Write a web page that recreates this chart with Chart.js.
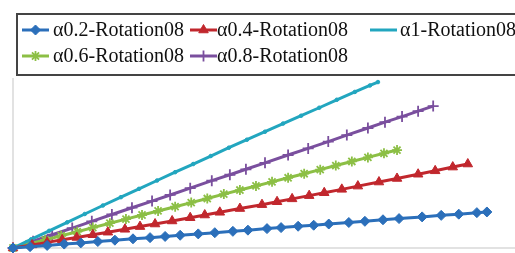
<!DOCTYPE html>
<html>
<head>
<meta charset="utf-8">
<script src="https://cdn.jsdelivr.net/npm/chart.js@4"></script>
<style>
html,body{margin:0;padding:0;background:#fff;overflow:hidden;}
canvas{display:block;}
</style>
</head>
<body>
<canvas id="c" width="515" height="253" style="width:515px;height:253px;"></canvas>
<script>
// Series labels
const labels = ["α0.2-Rotation08", "α0.4-Rotation08", "α1-Rotation08", "α0.6-Rotation08", "α0.8-Rotation08"];

// α0.2 (blue, diamonds)
const xA02 = [0, 3.4, 6.8, 10.2, 13.5, 16.9, 20.3, 23.9, 27.3, 30.3, 33.3, 36.9, 40.2, 43.8, 46.8, 50.6, 53.4, 56.8, 59.9, 62.9, 66.9, 70.1, 73.7, 76.9, 81.5, 85.3, 88.8, 92.4, 94.4];
const yA02 = [0, 0.8, 1.5, 2.3, 3.0, 3.8, 4.6, 5.4, 6.1, 6.8, 7.5, 8.3, 9.0, 9.8, 10.5, 11.4, 12.0, 12.8, 13.4, 14.1, 15.0, 15.7, 16.6, 17.3, 18.3, 19.2, 19.9, 20.8, 21.2];

// α0.4 (red, triangles)
const xA04 = [0, 3.8, 6.8, 9.8, 12.7, 15.9, 18.9, 22.3, 25.3, 28.3, 31.7, 35.3, 38.2, 41.2, 45.2, 49.6, 52.6, 55.6, 59.0, 62.0, 65.5, 68.7, 72.9, 76.5, 80.7, 84.1, 87.6, 90.6];
const yA04 = [0, 1.8, 3.3, 4.8, 6.2, 7.8, 9.3, 11.0, 12.6, 14.1, 15.9, 17.8, 19.4, 21.0, 23.2, 25.5, 27.2, 28.9, 30.8, 32.5, 34.5, 36.4, 38.8, 40.9, 43.4, 45.4, 47.6, 49.4];

// α1 (cyan)
const xA1 = [0, 3.6, 7.2, 10.8, 14.3, 17.9, 21.5, 25.1, 28.7, 32.3, 35.9, 39.4, 43.0, 46.6, 50.2, 53.8, 57.4, 61.0, 64.5, 68.1, 71.1, 72.7];
const yA1 = [0, 5.1, 10.1, 15.1, 20.0, 25.0, 29.9, 34.8, 39.7, 44.6, 49.4, 54.1, 59.0, 63.7, 68.4, 73.2, 77.8, 82.5, 87.2, 91.8, 95.6, 97.6];

// α0.6 (green, stars)
const xA06 = [0, 3.2, 6.4, 9.6, 12.8, 15.9, 19.3, 22.5, 25.7, 28.9, 32.3, 35.5, 38.7, 42.0, 45.2, 48.4, 51.6, 54.8, 58.0, 61.2, 64.3, 67.5, 70.7, 73.9, 76.5];
const yA06 = [0, 2.4, 4.8, 7.2, 9.6, 12.0, 14.6, 17.0, 19.4, 21.8, 24.3, 26.7, 29.1, 31.7, 34.1, 36.5, 38.9, 41.3, 43.7, 46.1, 48.5, 50.9, 53.3, 55.7, 57.6];

// α0.8 (purple, plus)
const xA08 = [0, 4.0, 7.8, 11.8, 15.7, 19.7, 23.7, 27.7, 31.3, 35.3, 39.6, 43.2, 46.4, 50.2, 54.8, 58.8, 62.8, 66.5, 70.7, 74.1, 77.5, 80.7, 83.7];
const yA08 = [0, 4.0, 7.8, 11.7, 15.7, 19.7, 23.7, 27.6, 31.2, 35.2, 39.6, 43.1, 46.3, 50.1, 54.7, 58.6, 62.6, 66.4, 70.6, 74.0, 77.3, 80.5, 83.5];

const colors = ["#2b6fba", "#c1272d", "#22a6bf", "#8cbf45", "#7a4f9e"];
const styles = ["rectRot", "triangle", "circle", "star", "cross"];
const radii = [5, 5.5, 1.8, 5, 5.5];

function pts(xs, ys) { return xs.map((x, i) => ({x: x, y: ys[i]})); }
const series = [pts(xA02, yA02), pts(xA04, yA04), pts(xA1, yA1), pts(xA06, yA06), pts(xA08, yA08)];

const datasets = series.map((d, i) => ({
  label: labels[i],
  data: d,
  borderColor: colors[i],
  backgroundColor: colors[i],
  borderWidth: 3,
  pointStyle: styles[i],
  pointRadius: radii[i],
  pointBorderWidth: (styles[i] === "star" || styles[i] === "cross") ? 1.8 : 1,
  pointBorderColor: colors[i],
  pointBackgroundColor: colors[i],
  tension: 0,
  fill: false,
  clip: 8
}));

const axesPlugin = {
  id: 'axesLines',
  beforeDatasetsDraw(chart) {
    const ctx = chart.ctx, a = chart.chartArea;
    ctx.save();
    ctx.strokeStyle = "#d9d9d9";
    ctx.lineWidth = 1.5;
    ctx.beginPath();
    ctx.moveTo(a.left, a.top);
    ctx.lineTo(a.left, a.bottom);
    ctx.lineTo(a.right, a.bottom);
    ctx.stroke();
    ctx.restore();
  }
};

const legendPlugin = {
  id: 'boxLegend',
  afterDraw(chart) {
    const ctx = chart.ctx;
    ctx.save();
    ctx.strokeStyle = "#444";
    ctx.lineWidth = 2;
    ctx.strokeRect(17, 14, 540, 61);
    const pos = [
      {sx: 22, tx: 53, y: 30},
      {sx: 190, tx: 217, y: 30},
      {sx: 370, tx: 400, y: 30},
      {sx: 22, tx: 53, y: 56},
      {sx: 190, tx: 217, y: 56}
    ];
    ctx.font = '20px "Liberation Serif", "Times New Roman", serif';
    ctx.textBaseline = 'middle';
    chart.data.datasets.forEach((ds, i) => {
      const p = pos[i];
      ctx.strokeStyle = ds.borderColor;
      ctx.lineWidth = 3;
      ctx.beginPath();
      ctx.moveTo(p.sx, p.y);
      ctx.lineTo(p.sx + 27, p.y);
      ctx.stroke();
      if (ds.pointStyle !== 'circle') {
        ctx.fillStyle = ds.backgroundColor;
        ctx.strokeStyle = ds.borderColor;
        ctx.lineWidth = ds.pointBorderWidth;
        Chart.helpers.drawPoint(ctx, {pointStyle: ds.pointStyle, radius: ds.pointRadius, borderWidth: ds.pointBorderWidth, rotation: 0}, p.sx + 13.5, p.y);
      }
      ctx.fillStyle = "#111";
      ctx.fillText(ds.label, p.tx, p.y + 1);
    });
    ctx.restore();
  }
};

new Chart(document.getElementById('c'), {
  type: 'line',
  data: { datasets: datasets },
  options: {
    responsive: false,
    animation: false,
    layout: { autoPadding: false, padding: { left: 13, top: 78, right: 0, bottom: 5 } },
    plugins: { legend: { display: false }, tooltip: { enabled: false } },
    scales: {
      x: { type: 'linear', min: 0, max: 100, display: false },
      y: { type: 'linear', min: 0, max: 100, display: false }
    }
  },
  plugins: [axesPlugin, legendPlugin]
});
</script>
</body>
</html>
